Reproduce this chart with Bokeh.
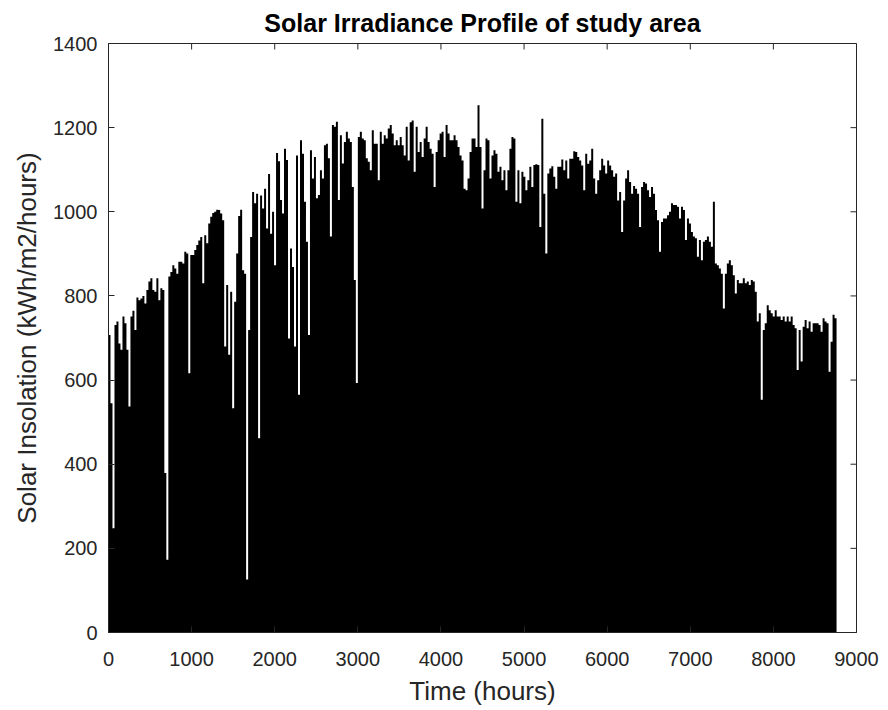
import numpy as np
from bokeh.plotting import figure
from bokeh.models import Range1d, FixedTicker, ColumnDataSource
from bokeh.embed import file_html
from bokeh.resources import INLINE

# Daily peak solar insolation (kWh/m2/hours), one value per day of the year
daily_peak = [
    707, 545, 248, 731, 739, 687, 672, 751, 735, 672,
    537, 751, 765, 719, 796, 790, 794, 800, 782, 814,
    834, 842, 814, 810, 842, 790, 818, 814, 379, 173,
    846, 857, 873, 865, 853, 881, 881, 877, 905, 901,
    616, 897, 897, 909, 921, 932,
    940, 830, 944, 925, 972, 988, 997, 1000, 1005, 1004,
    996, 980, 680, 826, 660, 810, 533, 786, 901, 990,
    1005, 861, 853, 126, 719, 940, 1047, 1020, 1043, 462,
    1039, 1008, 1055, 960, 1090, 948, 1000, 873, 1140, 1120,
    1028, 996, 1150, 1123,
    699, 913, 869, 680, 1134, 565, 1170, 1138, 1024, 929,
    707, 1146, 1079, 1130, 1032, 1040, 1099, 1079, 1158, 1162,
    1127, 941, 1206, 1202, 1214, 1028, 1182, 1115, 1166, 1190,
    1174, 1166, 1059, 838, 593, 1178, 1190, 1174, 1170, 1127,
    1119, 1099, 1194, 1162, 1162,
    1075, 1190, 1162, 1182, 1174, 1198, 1206, 1186, 1158, 1170,
    1158, 1178, 1158, 1134, 1202, 1122, 1213, 1217, 1095, 1202,
    1142, 1166, 1130, 1174, 1202, 1166, 1150, 1138, 1059, 1142,
    1170, 1186, 1190, 1130, 1206, 1186, 1170, 1170, 1182, 1170,
    1154, 1134, 1122, 1055, 1051, 1079, 1142,
    1174, 1174, 1154, 1253, 1154, 1008, 1099, 1174, 1170, 1079,
    1134, 1146, 1138, 1095, 1107, 1075, 1099, 1051, 1099, 1150,
    1178, 1174, 1024, 1099, 1020, 1095, 1083, 1051, 1075, 1107,
    1059, 1111, 1113, 1111, 964, 1221, 1043, 901, 1091, 1103,
    1108, 1083, 1055, 1107, 1107,
    1124, 1099, 1122, 1079, 1126, 1126, 1144, 1142, 1130, 1122,
    1110, 1051, 1138, 1114, 1122, 1150, 1079, 1043, 1075, 1099,
    1126, 1110, 1091, 1122, 1110, 1099, 1083, 1091, 1027, 1047,
    952, 1027, 1079, 1099, 1071, 1043, 1061, 1055, 1043, 964,
    1059, 1071, 1067, 1051, 1035,
    1059, 1043, 1004, 980, 905, 976, 984, 984, 992, 1000,
    1020, 1016, 1016, 1012, 984, 1012, 1004, 933, 984, 972,
    952, 941, 937, 893, 933, 885, 929, 933, 941, 929,
    917, 1024, 877, 873, 865, 853, 770, 853, 877, 885,
    873, 849, 806, 838, 830,
    830, 842, 830, 834, 826, 838, 834, 810, 739, 759,
    553, 719, 735, 778, 766, 759, 751, 766, 751, 751,
    743, 751, 739, 751, 739, 751, 731, 723, 624, 719,
    644, 727, 743, 723, 739, 715, 735, 735, 735, 731,
    715, 747, 739, 735, 620, 691, 755, 747,
]
hours_per_day = 24
x_ticks = [0, 1000, 2000, 3000, 4000, 5000, 6000, 7000, 8000, 9000]
y_ticks = [0, 200, 400, 600, 800, 1000, 1200, 1400]
x_max = 9000
y_max = 1400

title_text = "Solar Irradiance Profile of study area"
x_label = "Time (hours)"
y_label = "Solar Insolation (kWh/m2/hours)"

# step edges: start hour of each day, plus the end of the last day
day_start = [i * hours_per_day for i in range(len(daily_peak) + 1)]
step_top = daily_peak + [daily_peak[-1]]
src = ColumnDataSource(dict(x=day_start, top=step_top, base=[0] * len(step_top)))

FONT = "Liberation Sans"
AX = "#262626"
TICK_LEN = 6

p = figure(width=880, height=708, output_backend="svg", toolbar_location=None,
           x_range=Range1d(0, x_max), y_range=Range1d(0, y_max),
           min_border_left=108, min_border_right=24, min_border_top=43, min_border_bottom=76,
           background_fill_color="white", border_fill_color="white")

p.varea_step(x="x", y1="base", y2="top", step_mode="after", source=src, fill_color="black")

# inward tick marks on the top and right edges of the box (MATLAB "box on" style)
p.ray(x=x_ticks, y=[y_max] * len(x_ticks), length=TICK_LEN, length_units="screen",
      angle=-np.pi / 2, line_color=AX, line_width=1)
p.ray(x=[x_max] * len(y_ticks), y=y_ticks, length=TICK_LEN, length_units="screen",
      angle=np.pi, line_color=AX, line_width=1)

p.grid.visible = False
p.outline_line_color = AX
p.outline_line_width = 1

p.title.text = title_text
p.title.align = "center"
p.title.text_font = FONT
p.title.text_font_size = "25px"
p.title.text_font_style = "bold"
p.title.text_color = "black"
p.title.standoff = 13

p.xaxis.ticker = FixedTicker(ticks=x_ticks)
p.yaxis.ticker = FixedTicker(ticks=y_ticks)
p.xaxis.axis_label = x_label
p.yaxis.axis_label = y_label
for ax in (p.xaxis, p.yaxis):
    ax.axis_line_color = AX
    ax.major_tick_line_color = AX
    ax.major_tick_in = TICK_LEN
    ax.major_tick_out = 0
    ax.minor_tick_line_color = None
    ax.major_label_text_font = FONT
    ax.major_label_text_font_size = "20px"
    ax.major_label_text_color = AX
    ax.axis_label_text_font = FONT
    ax.axis_label_text_font_size = "26px"
    ax.axis_label_text_font_style = "normal"
    ax.axis_label_text_color = AX
p.xaxis.major_label_standoff = 19
p.xaxis.axis_label_standoff = 7
p.yaxis.major_label_standoff = 11
p.yaxis.axis_label_standoff = 8

open("out.html", "w").write(file_html(p, INLINE))
